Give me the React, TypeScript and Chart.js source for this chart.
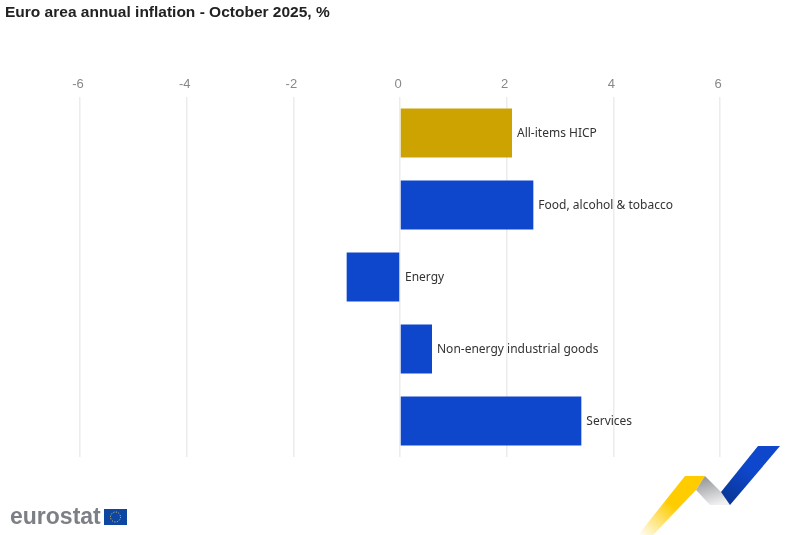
import { useEffect, useRef } from "react";
import { Chart, registerables } from "chart.js";
import type { Plugin } from "chart.js";

Chart.register(...registerables);

const titleText = "Euro area annual inflation - October 2025, %";
const categories = [
  "All-items HICP",
  "Food, alcohol & tobacco",
  "Energy",
  "Non-energy industrial goods",
  "Services",
];
const inflation = [2.1, 2.5, -1.0, 0.6, 3.4];
const barColors = ["#cca300", "#0e47cb", "#0e47cb", "#0e47cb", "#0e47cb"];

// category name sits right of the bar, or right of zero for negative bars
const endLabels: Plugin<"bar"> = {
  id: "endLabels",
  afterDatasetsDraw(chart) {
    const { ctx, scales } = chart;
    const zero = scales.x.getPixelForValue(0);
    ctx.save();
    ctx.font = "12px 'Noto Sans'";
    ctx.fillStyle = "#333333";
    ctx.textAlign = "left";
    ctx.textBaseline = "middle";
    chart.getDatasetMeta(0).data.forEach((bar, i) => {
      ctx.fillText(categories[i], Math.max(bar.x, zero) + 5, bar.y + 1);
    });
    ctx.restore();
  },
};

function EurostatLogo() {
  return (
    <svg
      width={800}
      height={535}
      style={{ position: "absolute", left: 0, top: 0, pointerEvents: "none" }}
    >
      <defs>
        <linearGradient id="yellowFade" x1="0" y1="1" x2="0.75" y2="0.3">
          <stop offset="0" stopColor="#ffcc00" stopOpacity="0" />
          <stop offset="0.7" stopColor="#ffcc00" />
        </linearGradient>
        <linearGradient id="greyFold" x1="0.3" y1="0.1" x2="0.6" y2="1">
          <stop offset="0" stopColor="#9a9c9e" />
          <stop offset="1" stopColor="#f1f1f2" />
        </linearGradient>
        <linearGradient id="blueFold" x1="0.85" y1="0" x2="0.15" y2="1">
          <stop offset="0.45" stopColor="#0e47cb" />
          <stop offset="1" stopColor="#0a3596" />
        </linearGradient>
      </defs>
      <polygon points="638,535 653,535 696,490 705,476 685,476" fill="url(#yellowFade)" />
      <polygon points="705,476 721,492 730,505 710,505 696,490" fill="url(#greyFold)" />
      <polygon points="758,446 780,446 730,505 721,492" fill="url(#blueFold)" />
      <text
        x={10}
        y={524}
        fontFamily="'Liberation Sans'"
        fontWeight={700}
        fontSize={23}
        fill="#7c7f85"
      >
        eurostat
      </text>
      <rect x={104} y={509} width={23} height={16} fill="#0e47a1" />
      <circle cx={115.5} cy={517} r={5} fill="none" stroke="#e8d36a" strokeWidth={1} strokeDasharray="1 1.6" />
    </svg>
  );
}

export default function App() {
  const canvasRef = useRef<HTMLCanvasElement | null>(null);

  useEffect(() => {
    document.body.style.margin = "0";
    if (!canvasRef.current) return;
    const chart = new Chart(canvasRef.current, {
      type: "bar",
      plugins: [endLabels],
      data: {
        labels: categories,
        datasets: [
          {
            data: inflation,
            backgroundColor: barColors,
            categoryPercentage: 0.68,
            barPercentage: 1,
          },
        ],
      },
      options: {
        indexAxis: "y",
        animation: false,
        responsive: false,
        devicePixelRatio: 1,
        layout: { padding: { left: 5, right: 80, bottom: 78 } },
        plugins: {
          legend: { display: false },
          tooltip: { enabled: false },
          title: {
            display: true,
            text: titleText,
            align: "start",
            color: "#222222",
            font: { family: "'Liberation Sans'", size: 15.5, weight: "bold", lineHeight: 1.2 },
            padding: { top: 3, bottom: 3 },
          },
        },
        scales: {
          x: {
            position: "top",
            min: -6,
            max: 6,
            afterFit: (scale) => {
              scale.height = 72.4;
            },
            ticks: {
              stepSize: 2,
              color: "#888888",
              padding: 5,
              labelOffset: -2,
              maxRotation: 0,
              font: { family: "'Liberation Sans'", size: 13 },
            },
            grid: { color: "#ececec", lineWidth: 1.5, drawTicks: false },
            border: { display: false },
          },
          y: {
            afterFit: (scale) => {
              scale.width = 75;
            },
            ticks: { display: false },
            grid: { display: false },
            border: { display: false },
          },
        },
      },
    });
    return () => chart.destroy();
  }, []);

  return (
    <div style={{ position: "relative", width: 800, height: 535, background: "#ffffff" }}>
      <canvas ref={canvasRef} width={800} height={535} style={{ display: "block" }} />
      <EurostatLogo />
    </div>
  );
}
